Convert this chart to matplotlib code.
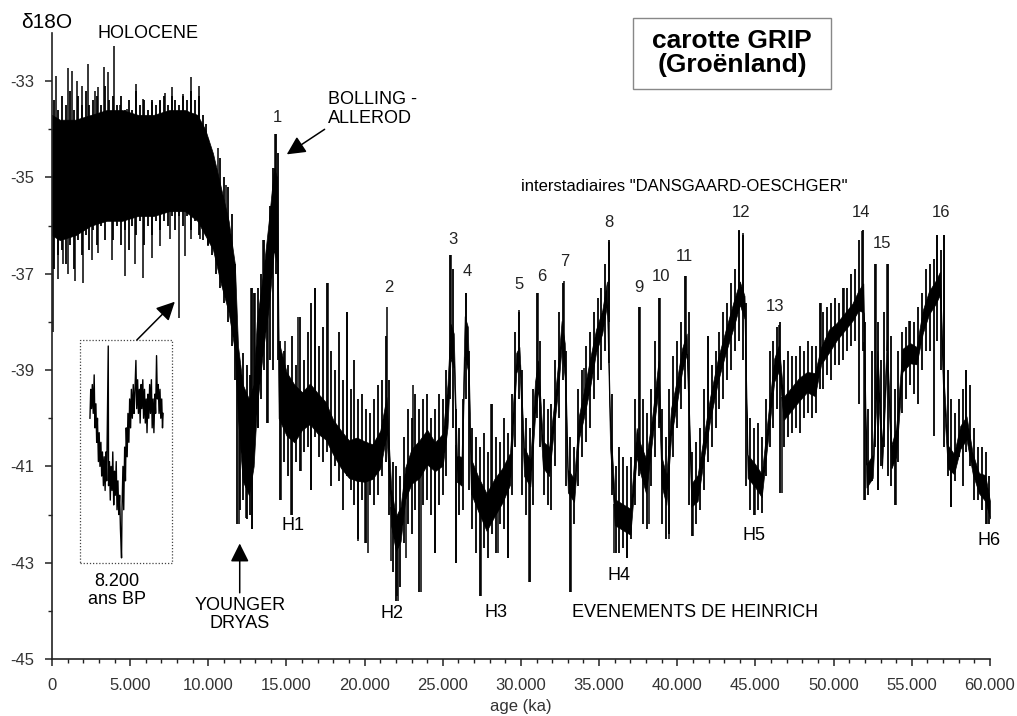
import numpy as np
import matplotlib
matplotlib.use('Agg')
import matplotlib.pyplot as plt
from matplotlib.ticker import MultipleLocator, FuncFormatter
from matplotlib.patches import Rectangle

plt.rcParams['font.family'] = ['Liberation Sans', 'DejaVu Sans']
plt.rcParams['axes.unicode_minus'] = False

# --- data (ages in ka, values in permil) ---
# dense core of the record: upper / lower edge of the black band
band_age = [0.0, 0.5, 1.5, 2.5, 3.5, 4.5, 5.5, 6.5, 7.5, 8.5, 9.3, 9.8, 10.3, 10.8, 11.3, 11.7,
            11.9, 12.2, 12.6, 12.9, 13.1, 13.5, 13.9, 14.2, 14.4, 14.5, 15.0, 15.5, 16.0, 16.5,
            17.0, 17.5, 18.0, 18.5, 19.0, 19.5, 20.0, 20.5, 21.0, 21.4, 21.7, 22.0, 22.3, 22.6,
            23.0, 23.5, 24.0, 24.5, 25.0, 25.3, 25.5, 25.7, 25.9, 26.2, 26.4, 26.6, 26.8, 27.3,
            27.8, 28.3, 28.8, 29.3, 29.7, 29.9, 30.2, 30.6, 30.9, 31.1, 31.4, 31.8, 32.1, 32.4,
            32.6, 32.8, 33.0, 33.4, 33.7, 34.0, 34.4, 34.8, 35.2, 35.5, 35.7, 36.0, 36.5, 37.0,
            37.4, 37.6, 38.0, 38.4, 38.8, 39.0, 39.3, 39.6, 40.0, 40.3, 40.6, 40.9, 41.3, 41.7,
            42.1, 42.6, 43.1, 43.6, 44.0, 44.3, 44.5, 45.0, 45.4, 45.8, 46.2, 46.5, 46.8, 47.3,
            47.8, 48.3, 48.8, 49.2, 49.7, 50.2, 50.7, 51.2, 51.6, 51.9, 52.1, 52.5, 52.8, 53.1,
            53.4, 53.7, 54.0, 54.4, 54.9, 55.3, 55.7, 56.1, 56.5, 56.8, 57.0, 57.3, 57.7, 58.1,
            58.5, 58.9, 59.3, 59.7, 60.0]
band_hi = [-33.7, -33.8, -33.8, -33.7, -33.6, -33.6, -33.7, -33.7, -33.6, -33.6, -33.7, -34.0, -34.5, -35.2, -35.9, -36.8,
           -38.5, -39.3, -39.6, -39.3, -38.0, -37.0, -35.8, -34.8, -35.0, -38.4, -38.6, -38.9, -39.2, -39.0,
           -39.2, -39.4, -39.8, -40.0, -40.2, -40.1, -40.2, -40.3, -40.0, -39.3, -41.2, -41.8, -41.6, -40.8,
           -40.4, -40.2, -40.0, -40.3, -40.1, -39.0, -37.8, -38.0, -40.6, -40.6, -37.6, -37.8, -40.6, -41.0,
           -41.3, -41.0, -40.8, -40.5, -38.5, -38.4, -40.4, -40.7, -39.0, -38.6, -40.3, -40.4, -39.6, -38.6,
           -37.8, -38.2, -40.9, -41.1, -39.8, -39.3, -38.6, -38.0, -37.6, -37.0, -39.8, -41.5, -41.6, -41.7,
           -40.0, -40.3, -40.6, -39.8, -38.6, -40.6, -41.0, -39.6, -39.0, -38.4, -38.1, -41.2, -41.0, -40.2,
           -39.4, -38.6, -38.0, -37.4, -37.0, -37.3, -40.6, -40.8, -41.0, -39.8, -38.6, -38.3, -39.4, -39.2,
           -39.0, -38.9, -38.9, -38.4, -38.0, -37.9, -37.7, -37.5, -37.2, -37.0, -40.8, -40.6, -38.4, -40.4,
           -38.2, -40.4, -40.0, -38.4, -38.3, -38.4, -37.6, -37.2, -37.0, -36.8, -38.8, -40.4, -40.6, -40.0,
           -39.8, -40.6, -41.0, -41.0, -41.6]
band_lo = [-36.2, -36.3, -36.2, -36.0, -35.9, -35.9, -35.8, -35.8, -35.7, -35.7, -35.9, -36.2, -36.5, -37.2, -37.8, -38.6,
           -40.0, -41.3, -41.6, -41.0, -39.8, -38.6, -37.6, -36.5, -36.8, -40.0, -40.8, -40.9, -40.5, -40.4,
           -40.6, -40.7, -41.0, -41.3, -41.5, -41.6, -41.6, -41.5, -41.3, -40.6, -42.5, -43.0, -42.8, -41.9,
           -41.6, -41.5, -41.2, -41.3, -41.2, -40.5, -39.0, -39.2, -41.5, -41.6, -39.0, -39.3, -41.8, -42.2,
           -42.6, -42.3, -42.0, -41.6, -39.2, -39.0, -41.4, -41.6, -40.2, -39.6, -41.2, -41.4, -40.4, -39.5,
           -38.7, -39.4, -41.7, -41.9, -40.6, -40.2, -39.6, -38.8, -38.4, -37.8, -40.8, -42.4, -42.5, -42.6,
           -41.0, -41.3, -41.8, -40.6, -39.6, -41.6, -42.0, -40.6, -39.8, -39.2, -38.8, -42.0, -41.9, -41.0,
           -40.2, -39.4, -38.8, -38.3, -37.8, -38.1, -41.4, -41.6, -41.8, -40.6, -39.4, -39.2, -40.2, -40.0,
           -39.8, -39.6, -39.7, -39.0, -38.8, -38.5, -38.3, -38.1, -37.9, -38.0, -41.6, -41.4, -39.4, -41.2,
           -39.0, -41.2, -41.0, -39.2, -39.0, -39.0, -38.4, -38.0, -37.8, -37.6, -39.6, -41.2, -41.3, -40.8,
           -40.6, -41.3, -41.7, -41.9, -42.2]

# the trace itself: one stroke (top, bottom) every ~250 years
trace_age = [0.15, 0.4, 0.65, 0.9, 1.15, 1.4, 1.65, 1.9, 2.15, 2.4, 2.65, 2.9, 3.15, 3.4, 3.65, 3.9,
             4.15, 4.4, 4.65, 4.9, 5.15, 5.4, 5.65, 5.9, 6.15, 6.4, 6.65, 6.9, 7.15, 7.4, 7.65, 7.9,
             8.15, 8.4, 8.65, 8.9, 9.15, 9.4, 9.65, 9.85,
             10.0, 10.25, 10.5, 10.75, 11.0, 11.25, 11.5, 11.7, 11.85, 12.05, 12.25, 12.45, 12.65, 12.8,
             12.95, 13.15, 13.35, 13.55, 13.75, 13.95, 14.15, 14.3, 14.45,
             14.6, 14.85, 15.1, 15.35, 15.6, 15.85, 16.1, 16.35, 16.6, 16.85, 17.1, 17.35, 17.6, 17.85,
             18.1, 18.35, 18.6, 18.85, 19.1, 19.35, 19.6, 19.85, 20.1, 20.35,
             20.6, 20.85, 21.1, 21.35, 21.55, 21.8, 22.0, 22.25, 22.5, 22.75, 23.0, 23.25, 23.5, 23.75,
             24.0, 24.25, 24.5, 24.75, 25.0, 25.2, 25.45, 25.65, 25.85, 26.05, 26.3, 26.5, 26.7, 26.9,
             27.15, 27.4, 27.65, 27.9, 28.15, 28.4, 28.65, 28.9, 29.15, 29.4, 29.65, 29.85, 30.05, 30.3,
             30.55, 30.8, 31.0, 31.2, 31.45, 31.7, 31.95, 32.2, 32.45, 32.7, 32.9, 33.15, 33.4, 33.65,
             33.9, 34.15, 34.4, 34.65, 34.9, 35.15, 35.4, 35.6, 35.8, 36.05, 36.3, 36.55, 36.8, 37.05,
             37.3, 37.55, 37.8, 38.05, 38.3, 38.55, 38.8, 39.0, 39.25, 39.5, 39.75, 40.0, 40.25, 40.5,
             40.75, 40.95,
             41.2, 41.45, 41.7, 41.95, 42.2, 42.45, 42.7, 42.95, 43.2, 43.45, 43.7, 43.95, 44.2, 44.4,
             44.65, 44.9, 45.15, 45.4, 45.65, 45.9, 46.15, 46.4, 46.6, 46.85, 47.1, 47.35, 47.6, 47.85,
             48.1, 48.35, 48.6, 48.85, 49.1, 49.35, 49.6, 49.85, 50.1, 50.35, 50.6, 50.85, 51.1, 51.35,
             51.6, 51.85, 52.0, 52.2, 52.45, 52.65, 52.85, 53.05, 53.25, 53.45, 53.65, 53.9, 54.15, 54.4,
             54.65, 54.9, 55.15, 55.4, 55.65, 55.9, 56.15, 56.4, 56.6, 56.85, 57.05, 57.3, 57.5, 57.75,
             58.0, 58.25, 58.5, 58.75, 59.0, 59.25, 59.5, 59.75, 59.95]
trace_top = [-33.4, -33.6, -33.3, -33.5, -33.2, -33.6, -33.3, -33.5, -33.2, -33.5, -33.4, -33.3, -33.5, -33.1, -33.4, -33.3,
             -33.5, -33.3, -33.6, -33.4, -33.6, -33.2, -33.5, -33.4, -33.6, -33.4, -33.5, -33.4, -33.3, -33.5, -33.3, -33.4,
             -33.5, -33.3, -33.4, -33.2, -33.4, -33.3, -33.7, -33.9,
             -34.2, -34.5, -34.8, -34.6, -35.0, -35.2, -35.75, -36.8, -38.2, -38.9, -38.65, -38.9, -39.1, -37.3,
             -37.4, -37.3, -37.0, -36.3, -36.5, -35.6, -34.8, -34.1, -34.5,
             -38.4, -38.6, -38.9, -38.3, -38.9, -37.9, -38.8, -38.2, -37.6, -37.3, -38.5, -38.1, -37.2, -38.6,
             -39.0, -38.2, -39.2, -37.8, -39.4, -38.8, -39.6, -39.5, -39.8, -39.9,
             -39.6, -39.3, -39.2, -38.3, -39.2, -40.9, -41.0, -41.2, -40.4, -39.8, -40.0, -39.5, -39.8, -39.6,
             -39.5, -40.0, -39.8, -39.5, -39.6, -39.0, -36.6, -36.9, -39.8, -40.2, -39.6, -37.4, -38.6, -40.2,
             -40.4, -40.6, -40.3, -40.7, -39.7, -40.4, -40.5, -40.0, -40.3, -39.5, -38.2, -37.8, -39.0, -40.0,
             -40.2, -39.4, -37.4, -38.4, -39.6, -39.8, -39.7, -38.8, -37.8, -37.2, -38.6, -40.4, -40.6, -39.4,
             -39.0, -38.5, -38.2, -37.8, -37.5, -37.3, -36.8, -36.3, -39.5, -41.0, -40.6, -40.8, -41.0, -40.8,
             -39.6, -37.7, -39.6, -39.9, -39.4, -38.4, -37.5, -39.8, -40.4, -39.4, -38.7, -38.4, -38.0, -37.05,
             -37.8, -40.7,
             -40.5, -40.2, -39.4, -38.3, -38.9, -38.6, -38.2, -37.8, -37.6, -37.2, -36.9, -36.1, -36.2, -37.6,
             -40.0, -40.2, -40.1, -40.4, -39.6, -38.6, -38.4, -38.1, -38.0, -38.8, -38.6, -38.7, -38.7, -38.5,
             -38.6, -38.4, -38.5, -38.5, -37.6, -37.8, -37.7, -37.6, -37.5, -37.6, -37.3, -37.3, -37.0, -36.9,
             -36.3, -36.1, -38.0, -39.8, -38.6, -36.8, -38.0, -38.8, -37.8, -36.8, -38.3, -39.4, -38.6, -38.2,
             -38.1, -37.98, -38.0, -37.7, -37.4, -36.9, -36.8, -36.7, -36.2, -36.5, -36.2, -39.0, -39.6, -39.9,
             -39.6, -39.4, -39.0, -39.3, -40.2, -40.6, -40.6, -40.7, -41.2]
trace_bot = [-36.9, -36.6, -36.5, -36.8, -36.4, -36.9, -36.3, -36.6, -36.2, -36.5, -36.1, -36.4, -36.0, -36.3, -35.9, -36.3,
             -36.0, -36.4, -36.1, -36.5, -36.0, -36.2, -35.9, -36.4, -36.0, -36.2, -35.9, -36.1, -35.9, -36.0, -35.8, -36.1,
             -35.8, -36.0, -35.8, -36.1, -35.9, -36.2, -36.3, -36.2,
             -36.4, -36.6, -37.0, -37.3, -37.6, -38.0, -38.5, -39.2, -42.2, -41.9, -41.7, -42.1, -42.0, -42.3,
             -40.5, -40.2, -39.6, -39.0, -40.1, -38.8, -39.0, -37.0, -38.8,
             -41.7, -40.9, -41.2, -42.0, -40.9, -41.1, -40.7, -40.6, -41.5, -40.4, -40.8, -40.9, -40.7, -41.4,
             -41.0, -41.3, -41.9, -41.2, -41.5, -41.8, -42.5, -41.7, -42.6, -41.6,
             -41.8, -41.6, -41.2, -40.9, -42.0, -43.2, -43.8, -43.5, -42.6, -42.2, -42.4, -41.9, -43.6, -41.8,
             -41.7, -42.0, -42.8, -41.8, -41.6, -41.2, -39.6, -40.2, -43.0, -42.0, -41.9, -39.6, -41.5, -42.3,
             -42.8, -43.7, -42.7, -42.9, -42.4, -42.8, -42.2, -42.3, -42.9, -41.6, -40.6, -39.6, -41.6, -42.0,
             -43.4, -41.8, -40.0, -40.6, -41.6, -41.8, -41.9, -41.0, -40.0, -39.2, -41.4, -43.6, -42.2, -41.4,
             -40.8, -40.5, -40.2, -39.6, -39.2, -39.0, -38.6, -38.0, -41.6, -42.8, -42.8, -42.7, -42.9, -42.5,
             -41.8, -41.2, -42.2, -42.3, -41.4, -40.8, -40.2, -42.2, -42.5, -42.4, -40.8, -40.2, -39.8, -39.4,
             -41.8, -42.45,
             -42.2, -41.9, -41.5, -40.9, -40.6, -40.2, -39.8, -39.6, -39.2, -39.0, -38.6, -38.4, -38.8, -41.4,
             -41.9, -42.0, -41.9, -41.96, -41.2, -40.6, -40.2, -39.8, -41.55, -40.6, -40.4, -40.3, -40.2, -40.3,
             -40.0, -39.9, -40.0, -39.9, -39.4, -39.4, -39.1, -39.2, -38.9, -38.9, -38.8, -38.6, -38.5, -38.4,
             -39.7, -38.6, -41.7, -41.6, -41.3, -40.6, -41.5, -41.0, -40.6, -41.2, -41.4, -41.8, -40.9, -39.9,
             -39.6, -39.3, -39.5, -39.7, -39.0, -38.6, -38.6, -40.36, -38.4, -39.0, -40.6, -41.2, -41.85, -41.3,
             -40.8, -41.4, -40.7, -41.0, -41.7, -41.7, -41.9, -42.2, -42.2]

# isolated long strokes sticking out of the trace (age ka, value)
spike_age = [0.23, 1.04, 1.26, 1.62, 1.9, 2.32, 2.75, 2.92, 3.35, 3.6, 3.98, 4.35, 4.77, 5.37, 5.84,
             6.37, 6.9, 7.22, 7.71, 8.39, 8.92, 9.41, 10.2, 10.63, 11.16,
             0.09, 0.4, 0.72, 1.04, 1.47, 2.0, 2.53, 2.96, 3.81, 4.66, 5.3, 5.84, 6.37, 6.9, 7.54, 8.11,
             8.5, 8.92, 9.46, 9.99,
             11.99, 12.4, 12.8, 12.76, 12.97, 13.5, 14.25, 13.18, 13.83,
             14.68, 15.3, 15.9, 16.6, 19.6, 20.0, 14.9, 15.74, 16.8, 17.66, 18.9,
             20.2, 21.7, 22.13, 22.05, 22.66, 23.6, 24.47, 25.86, 27.45, 28.5, 29.15, 30.54, 33.2, 35.97,
             36.8, 38.2, 39.5, 21.45, 23.09, 25.5, 26.5, 28.1, 29.9, 31.1, 32.74, 34.06, 35.6, 37.6, 38.9,
             40.55, 40.98, 45.0, 46.73, 51.95, 52.86, 53.97, 57.5, 59.8,
             41.94, 43.96, 44.2, 46.52, 49.2, 50.67, 51.8, 52.7, 53.4, 54.8, 56.6, 57.05, 58.5]
spike_val = [-32.9, -32.72, -32.78, -32.99, -33.1, -32.65, -33.2, -33.13, -32.7, -32.8, -32.26, -33.5, -33.58, -33.06, -33.38,
             -33.44, -33.41, -33.24, -33.13, -33.27, -32.92, -33.1, -34.49, -34.38, -35.15,
             -38.2, -37.1, -36.8, -37.0, -37.16, -37.2, -36.72, -36.57, -36.72, -37.05, -36.79, -37.09, -36.68, -36.42, -36.27, -37.91,
             -36.64, -36.27, -36.27, -36.42,
             -42.2, -42.07, -42.3, -37.3, -37.4, -36.3, -34.1, -40.2, -40.1,
             -41.7, -42.0, -41.1, -41.5, -42.55, -42.6, -38.4, -37.9, -37.3, -37.2, -37.8,
             -42.8, -42.96, -43.8, -43.7, -42.9, -43.6, -42.8, -43.0, -43.7, -42.8, -42.9, -43.4, -43.6, -42.8,
             -42.9, -42.2, -42.5, -37.7, -39.3, -36.6, -37.4, -39.7, -37.76, -37.4, -37.16, -38.95, -36.35, -37.7, -37.5,
             -37.05, -42.45, -42.0, -41.55, -41.7, -41.5, -41.8, -41.85, -42.2,
             -38.3, -36.12, -36.16, -38.06, -37.6, -37.3, -36.12, -36.8, -36.8, -37.98, -36.2, -36.2, -39.0]

# enlarged 8.200 BP event drawn in the dotted inset
inset_age = [2.43, 2.48, 2.53, 2.58, 2.64, 2.70, 2.75, 2.81, 2.86, 2.91, 2.97, 3.02, 3.07, 3.13, 3.18,
             3.23, 3.29, 3.34, 3.40, 3.45, 3.50, 3.60, 3.62, 3.68, 3.73, 3.78, 3.84, 3.89, 3.95, 4.00,
             4.05, 4.11, 4.16, 4.22, 4.27, 4.33, 4.38, 4.45, 4.48, 4.54, 4.59, 4.65, 4.70, 4.75, 4.81,
             4.86, 4.92, 4.97, 5.03, 5.08, 5.14, 5.20, 5.25, 5.30, 5.37, 5.42, 5.48, 5.53, 5.59, 5.64,
             5.70, 5.75, 5.81, 5.86, 5.92, 5.97, 6.03, 6.08, 6.14, 6.19, 6.25, 6.30, 6.36, 6.41, 6.47,
             6.52, 6.58, 6.63, 6.69, 6.74, 6.80, 6.85, 6.91, 6.96, 7.02, 7.07, 7.11]
inset_val = [-40.0, -39.4, -39.8, -39.3, -39.9, -39.1, -40.2, -39.7, -40.5, -40.0, -40.9, -40.3, -41.0, -40.5, -41.2,
             -40.7, -41.4, -40.8, -41.5, -40.7, -41.3, -38.5, -41.4, -40.9, -41.7, -41.0, -41.5, -40.7, -41.8, -41.1,
             -41.6, -40.9, -41.9, -41.3, -42.0, -41.6, -42.3, -42.9, -41.9, -41.0, -41.9, -40.6, -41.3, -40.2, -40.8,
             -39.9, -40.5, -39.6, -40.2, -39.4, -40.0, -39.3, -39.9, -39.5, -38.8, -39.8, -39.2, -39.9, -39.4, -40.1,
             -39.3, -39.8, -39.2, -40.0, -39.4, -40.1, -39.6, -40.3, -39.5, -40.0, -39.3, -39.9, -39.2, -40.2, -39.6,
             -40.3, -39.5, -39.9, -38.7, -39.6, -39.3, -39.9, -39.4, -40.0, -39.6, -40.2, -39.9]

do_labels = ['1', '2', '3', '4', '5', '6', '7', '8', '9', '10', '11', '12', '13', '14', '15', '16']
heinrich_labels = ['H1', 'H2', 'H3', 'H4', 'H5', 'H6']

# label anchor points (data coords, age ka / permil)
do_pos = [(14.4, -33.75), (21.53, -37.29), (25.62, -36.29), (26.58, -36.96), (29.9, -37.23),
          (31.3, -37.06), (32.8, -36.75), (35.6, -35.94), (37.57, -37.29), (38.98, -37.06),
          (40.45, -36.65), (44.1, -35.73), (46.26, -37.67), (51.76, -35.73), (53.1, -36.375),
          (56.87, -35.73)]
h_pos = [(15.4, -42.23), (21.73, -44.06), (28.43, -44.04), (36.3, -43.27), (44.92, -42.44), (59.94, -42.54)]

# plot
fig = plt.figure(figsize=(10.17, 7.16), dpi=100)
ax = fig.add_axes([0.0511, 0.0796, 0.9223, 0.8743])

ba = np.array(band_age) * 1000
hi = np.array(band_hi)
lo = np.array(band_lo)
# thinner core outside the Holocene so the strokes give the texture
shrink = np.where(ba > 14500, 0.6, 1.0)
c = (hi + lo) / 2
ax.fill_between(ba, c - (c - lo) * shrink, c + (hi - c) * shrink, color='black', lw=0.5)

# trace as vertical strokes
ta = np.array(trace_age) * 1000
ax.vlines(ta, trace_bot, trace_top, colors='black', lw=1.3)

sa = np.array(spike_age) * 1000
sv = np.array(spike_val)
mid = np.interp(sa, ba, c)
ax.vlines(sa, np.minimum(sv, mid), np.maximum(sv, mid), colors='black', lw=1.1)

ax.plot(np.array(inset_age) * 1000, inset_val, color='black', lw=1.0)
ax.add_patch(Rectangle((1790, -43.01), 7650 - 1790, 43.01 - 38.375, fill=False,
                       ls=(0, (1, 1.5)), lw=0.9, ec='#444444'))

# axes cosmetics
ax.set_xlim(0, 60000)
ax.set_ylim(-45, -32)
for s in ['top', 'right']:
    ax.spines[s].set_visible(False)
for s in ['left', 'bottom']:
    ax.spines[s].set_linewidth(1.2)
    ax.spines[s].set_color('#222222')
ax.xaxis.set_major_locator(MultipleLocator(5000))
ax.xaxis.set_minor_locator(MultipleLocator(1000))
ax.set_yticks([-45, -43, -41, -39, -37, -35, -33])
ax.set_yticks([-44, -42, -40, -38, -36, -34], minor=True)
ax.xaxis.set_major_formatter(FuncFormatter(lambda v, p: f"{int(v):,}".replace(",", ".")))
ax.tick_params(which='major', length=5, width=1.1, labelsize=12, colors='#222222',
               labelcolor='#333333')
ax.tick_params(which='minor', length=3, width=1.0, colors='#222222')
ax.tick_params(axis='x', pad=9)
ax.tick_params(axis='y', pad=8)
ax.set_xlabel('age (ka)', fontsize=12, color='#333333', labelpad=4)

fig.text(47 / 1017, 1 - 22 / 716, 'δ18O', fontsize=15, ha='center', va='center')

# text labels
for lab, (a, v) in zip(do_labels, do_pos):
    ax.text(a * 1000, v, lab, fontsize=12, ha='center', va='center', color='#222222')
for lab, (a, v) in zip(heinrich_labels, h_pos):
    ax.text(a * 1000, v, lab, fontsize=13, ha='center', va='center', clip_on=False)

ax.text(6130, -32.02, 'HOLOCENE', fontsize=13, ha='center', va='center', clip_on=False)
ax.text(17640, -33.58, 'BOLLING -\nALLEROD', fontsize=13, ha='left', va='center', linespacing=1.1)
ax.text(40450, -35.19, 'interstadiaires "DANSGAARD-OESCHGER"', fontsize=12, ha='center', va='center')
ax.text(41150, -44.04, 'EVENEMENTS DE HEINRICH', fontsize=13, ha='center', va='center')
ax.text(4150, -43.58, '8.200\nans BP', fontsize=13, ha='center', va='center', linespacing=1.1)
ax.text(12010, -44.08, 'YOUNGER\nDRYAS', fontsize=13, ha='center', va='center', linespacing=1.1)

arrow = dict(arrowstyle='-|>', mutation_scale=28, color='black', lw=1.1, shrinkA=0, shrinkB=0)
ax.annotate('', xy=(15020, -34.52), xytext=(17440, -34.0), arrowprops=arrow)
ax.annotate('', xy=(7860, -37.58), xytext=(5430, -38.375), arrowprops=arrow)
ax.annotate('', xy=(12010, -42.6), xytext=(12010, -43.625), arrowprops=arrow)

# title box
fig.patches.append(Rectangle((633 / 1017, 1 - 89 / 716), 198 / 1017, 71 / 716, fill=False,
                             ec='#888888', lw=1.0, transform=fig.transFigure, figure=fig))
fig.text(732 / 1017, 1 - 53 / 716, 'carotte GRIP\n(Groënland)', fontsize=19, fontweight='bold',
         ha='center', va='center', linespacing=1.05)

fig.savefig('out.png', dpi=100)
